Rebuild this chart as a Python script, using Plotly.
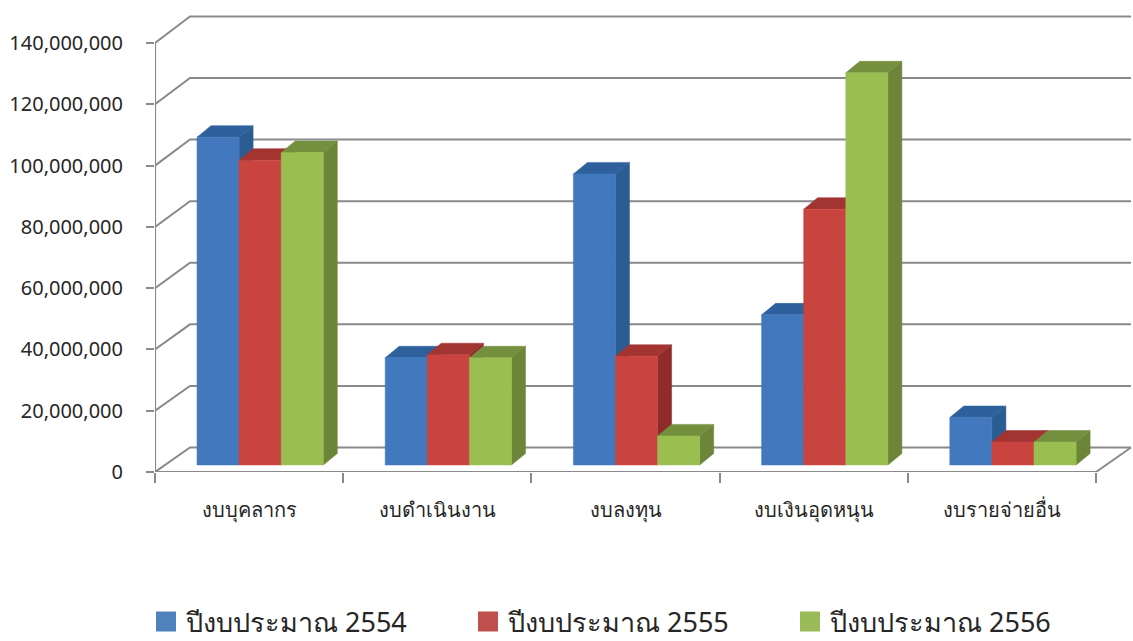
import plotly.graph_objects as go

categories = ["งบบุคลากร", "งบดำเนินงาน", "งบลงทุน", "งบเงินอุดหนุน", "งบรายจ่ายอื่น"]
series_names = ["ปีงบประมาณ 2554", "ปีงบประมาณ 2555", "ปีงบประมาณ 2556"]
values_2554 = [107.0, 35.0, 95.0, 49.0, 15.5]
values_2555 = [99.5, 36.0, 35.5, 83.5, 7.5]
values_2556 = [102.0, 35.0, 9.5, 128.0, 7.5]
y_ticks = [0, 20, 40, 60, 80, 100, 120, 140]
y_tick_labels = ["0", "20,000,000", "40,000,000", "60,000,000", "80,000,000",
                 "100,000,000", "120,000,000", "140,000,000"]

front_colors = ["#4178BE", "#C9443F", "#9BBE50"]
side_colors = ["#2B5C92", "#8F2C2A", "#6C8538"]
top_colors = ["#2E619C", "#A23432", "#748F3E"]
legend_colors = ["#4F81BD", "#C0504D", "#9BBB59"]
GRID = "#8A8A8A"
FONT = "Noto Sans, Liberation Sans, sans-serif"

W, H = 1133, 641
L, B, T = 155, 169, 5
CAT_PX = 188.2
PX_PER_M = 3.064
WALL_X, WALL_Y = 35 / CAT_PX, 24.5 / PX_PER_M
WALL_SCALE = 1.005
BAR_W = 42.1 / CAT_PX
BAR_START = 42 / CAT_PX
BASE = 7 / PX_PER_M
DEPTH_X, DEPTH_Y = 14 / CAT_PX, 11.5 / PX_PER_M
XMAX = (W - L) / CAT_PX
YMAX = (H - B - T) / PX_PER_M

fig = go.Figure()

# back wall, left wall and floor
gx, gy = [], []
for v in y_ticks:
    back = v * WALL_SCALE + WALL_Y
    gx += [0, WALL_X, 5 + WALL_X, None]
    gy += [v, back, back, None]
gx += [5, 5 + WALL_X, None]
gy += [0, WALL_Y, None]
fig.add_trace(go.Scatter(x=gx, y=gy, mode="lines", line=dict(color=GRID, width=2),
                         showlegend=False, hoverinfo="skip"))
fig.add_trace(go.Scatter(x=[0, 0, None, 0, 5], y=[140, 0, None, 0, 0], mode="lines",
                         line=dict(color=GRID, width=2.2), showlegend=False, hoverinfo="skip"))


def face(kind, vals, s):
    xs, ys = [], []
    for c, v in enumerate(vals):
        x0 = c + BAR_START + s * BAR_W
        x1 = x0 + BAR_W
        top = v + BASE
        if kind == "front":
            xs += [x0, x1, x1, x0, x0, None]
            ys += [BASE, BASE, top, top, BASE, None]
        elif kind == "top":
            xs += [x0, x1, x1 + DEPTH_X, x0 + DEPTH_X, x0, None]
            ys += [top, top, top + DEPTH_Y, top + DEPTH_Y, top, None]
        else:
            xs += [x1, x1 + DEPTH_X, x1 + DEPTH_X, x1, x1, None]
            ys += [BASE, BASE + DEPTH_Y, top + DEPTH_Y, top, BASE, None]
    return xs, ys


all_values = [values_2554, values_2555, values_2556]
for s, vals in enumerate(all_values):
    for kind, col in (("side", side_colors[s]), ("top", top_colors[s]), ("front", front_colors[s])):
        xs, ys = face(kind, vals, s)
        fig.add_trace(go.Scatter(x=xs, y=ys, mode="lines", fill="toself", fillcolor=col,
                                 line=dict(color=col, width=0.5), showlegend=False,
                                 hoverinfo="skip", name=series_names[s]))

for s, name in enumerate(series_names):
    fig.add_trace(go.Scatter(x=[None], y=[None], mode="markers", name=name,
                             marker=dict(symbol="square", size=16, color=legend_colors[s],
                                         line=dict(color=legend_colors[s], width=4))))

fig.update_layout(
    width=W, height=H, autosize=False,
    margin=dict(l=L, r=0, t=T, b=B),
    paper_bgcolor="white", plot_bgcolor="white",
    font=dict(family=FONT, color="#262626"),
    xaxis=dict(range=[0, XMAX], showgrid=False, zeroline=False, showline=False,
               tickmode="array", tickvals=[i + 0.5 for i in range(5)], ticktext=categories,
               ticks="", ticklabelstandoff=24, tickfont=dict(size=20),
               minor=dict(ticks="outside", tickmode="array", tickvals=list(range(6)),
                          ticklen=10, tickwidth=2, tickcolor=GRID, showgrid=False)),
    yaxis=dict(range=[0, YMAX], showgrid=False, zeroline=False, showline=False,
               tickmode="array", tickvals=y_ticks, ticktext=y_tick_labels,
               ticks="outside", ticklen=8, tickwidth=2, tickcolor=GRID,
               ticklabelstandoff=19, tickfont=dict(size=20)),
    legend=dict(orientation="h", xref="container", yref="container",
                x=(L - 9) / W, xanchor="left", y=1 - 622 / H, yanchor="middle",
                entrywidth=277, entrywidthmode="pixels", font=dict(size=27),
                itemclick=False, itemdoubleclick=False, bgcolor="rgba(0,0,0,0)"),
    hovermode=False,
)

fig.write_html("out.html", config=dict(displayModeBar=False),
               post_script="document.body.style.margin='0';document.body.style.overflow='hidden';")
